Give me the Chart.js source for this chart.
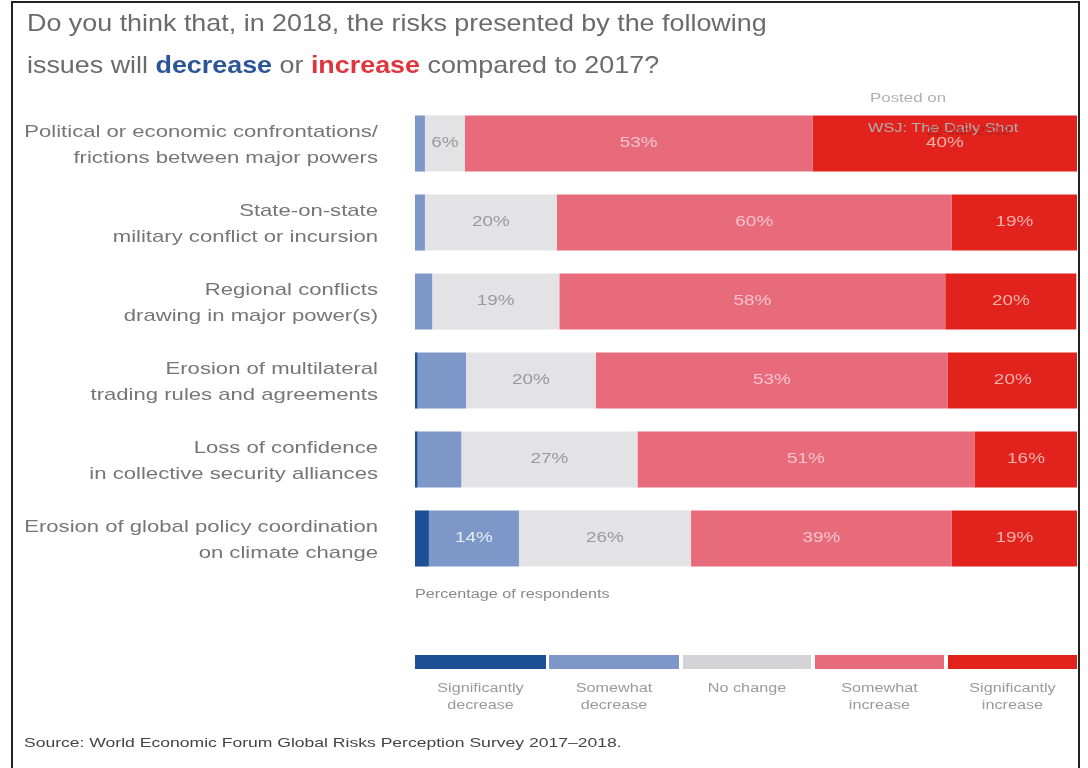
<!DOCTYPE html>
<html>
<head>
<meta charset="utf-8">
<script src="https://cdn.jsdelivr.net/npm/chart.js@4.4.1/dist/chart.umd.min.js"></script>
<style>
  html, body { margin: 0; padding: 0; background: #fff; }
  body { width: 1088px; height: 768px; position: relative; overflow: hidden; font-family: "Liberation Sans", Arial, sans-serif; }
  #frame { position: absolute; left: 11px; top: 1px; width: 1069px; height: 780px; border: 2px solid #222; box-sizing: border-box; }
  #chart { position: absolute; left: 0; top: 0; }
  .txt { position: absolute; white-space: nowrap; transform-origin: 0 50%; }
  #title { left: 27px; top: 2px; font-size: 24px; line-height: 42px; color: #6b6b6b; transform: scaleX(1.12); }
  #title .dec { color: #2b5597; font-weight: bold; }
  #title .inc { color: #e0353d; font-weight: bold; }
  #posted { left: 870px; top: 90px; font-size: 13px; color: #b0b0b0; transform: scaleX(1.3); }
  #wsj { left: 868px; top: 121px; font-size: 12px; color: #b0b0b0; transform: scaleX(1.36); }
  #stamp { left: 926px; top: 124px; font-size: 12px; color: rgba(150,30,25,0.6); transform: scaleX(1.25); }
  #axisNote { left: 415px; top: 587px; font-size: 12px; color: #8a8a8a; transform: scaleX(1.35); }
  #source { left: 24px; top: 735px; font-size: 13px; color: #444; transform: scaleX(1.35); }
  .legBar { position: absolute; top: 655px; height: 14px; }
  .legLbl { position: absolute; top: 680px; font-size: 12px; line-height: 17px; color: #9a9a9a; text-align: center; transform: scaleX(1.35); transform-origin: 50% 50%; }
</style>
</head>
<body>
<div id="frame"></div>
<canvas id="chart" width="1088" height="768"></canvas>
<div class="txt" id="title">Do you think that, in 2018, the risks presented by the following<br>issues will <span class="dec">decrease</span> or <span class="inc">increase</span> compared to 2017?</div>
<div class="txt" id="posted">Posted on</div>
<div class="txt" id="wsj">WSJ: The Daily Shot</div>
<div class="txt" id="stamp">22-Jan-2018</div>
<div class="txt" id="axisNote">Percentage of respondents</div>
<div class="txt" id="source">Source: World Economic Forum Global Risks Perception Survey 2017–2018.</div>
<div id="legend"></div>
<script>
// Survey issues (y axis)
const categories = [
    ['Political or economic confrontations/', 'frictions between major powers'],
    ['State-on-state', 'military conflict or incursion'],
    ['Regional conflicts', 'drawing in major power(s)'],
    ['Erosion of multilateral', 'trading rules and agreements'],
    ['Loss of confidence', 'in collective security alliances'],
    ['Erosion of global policy coordination', 'on climate change']
];

// Share of respondents, in percent
const sigDecrease  = [0,    0,    0,    0.4,  0.4,  2.1];
const someDecrease = [1.5,  1.5,  2.6,  7.3,  6.6,  13.6];
const noChange     = [6.0,  19.9, 19.2, 19.6, 26.6, 26.0];
const someIncrease = [52.6, 59.7, 58.3, 53.2, 50.9, 39.4];
const sigIncrease  = [39.9, 18.9, 19.8, 19.6, 15.6, 18.9];

const seriesNames = [
    ['Significantly', 'decrease'],
    ['Somewhat', 'decrease'],
    ['No change'],
    ['Somewhat', 'increase'],
    ['Significantly', 'increase']
];
const seriesColors = ['#1d4f95', '#7e97c9', '#e3e3e6', '#e86b7b', '#e2231d'];
const labelColors  = ['#dfe6f3', '#e6ecf6', '#9a9a9a', '#f8c3ca', '#f6b0a8'];
const labelMin     = [10, 10, 5, 5, 5];

const seriesData = [sigDecrease, someDecrease, noChange, someIncrease, sigIncrease];

// the source picture is stretched sideways, so text is widened to match
const textStretch = 1.3;

// percent labels in the middle of each segment
const segmentLabels = {
    id: 'segmentLabels',
    beforeDraw(chart) {
        // widen the category labels around their right edge
        const y = chart.scales.y;
        if (y && !y._wide) {
            const orig = y.drawLabels;
            y.drawLabels = function(area) {
                const ctx = this.ctx;
                const edge = this.right - this.options.ticks.padding;
                ctx.save();
                ctx.translate(edge, 2);
                ctx.scale(textStretch, 1);
                ctx.translate(-edge, 0);
                orig.call(this, area);
                ctx.restore();
            };
            y._wide = true;
        }
    },
    afterDatasetsDraw(chart) {
        const ctx = chart.ctx;
        ctx.save();
        ctx.font = '14px "Liberation Sans", Arial, sans-serif';
        ctx.textAlign = 'center';
        ctx.textBaseline = 'middle';
        chart.data.datasets.forEach(function(ds, i) {
            const meta = chart.getDatasetMeta(i);
            meta.data.forEach(function(bar, j) {
                const v = ds.data[j];
                if (v < labelMin[i]) return;
                ctx.save();
                ctx.translate((bar.x + bar.base) / 2, bar.y);
                ctx.scale(1.35, 1);
                ctx.fillStyle = labelColors[i];
                ctx.fillText(Math.round(v) + '%', 0, 0);
                ctx.restore();
            });
        });
        ctx.restore();
    }
};

new Chart(document.getElementById('chart').getContext('2d'), {
    type: 'bar',
    data: {
        labels: categories,
        datasets: seriesData.map(function(d, i) {
            return {
                label: seriesNames[i].join(' '),
                data: d,
                backgroundColor: seriesColors[i],
                borderWidth: 0,
                barPercentage: 0.71,
                categoryPercentage: 1
            };
        })
    },
    options: {
        indexAxis: 'y',
        responsive: false,
        animation: false,
        layout: { padding: { top: 104, bottom: 190, left: 0, right: 11 } },
        scales: {
            x: {
                stacked: true,
                min: 0,
                max: 100,
                display: false
            },
            y: {
                stacked: true,
                grid: { display: false, drawTicks: false },
                border: { display: false },
                ticks: {
                    padding: 37,
                    color: '#767676',
                    font: { family: '"Liberation Sans", Arial, sans-serif', size: 17, lineHeight: 1.53 }
                },
                afterFit: function(scale) { scale.width = 415; }
            }
        },
        plugins: {
            legend: { display: false },
            tooltip: { enabled: false }
        }
    },
    plugins: [segmentLabels]
});

// legend strip under the chart
const legendLefts  = [415, 549, 683, 815, 948];
const legendWidths = [131, 130, 128, 129, 129];
const legend = document.getElementById('legend');
seriesNames.forEach(function(name, i) {
    const bar = document.createElement('div');
    bar.className = 'legBar';
    bar.style.left = legendLefts[i] + 'px';
    bar.style.width = legendWidths[i] + 'px';
    bar.style.background = i === 2 ? '#d4d4d6' : seriesColors[i];
    legend.appendChild(bar);
    const lbl = document.createElement('div');
    lbl.className = 'legLbl';
    lbl.style.left = legendLefts[i] + 'px';
    lbl.style.width = legendWidths[i] + 'px';
    lbl.innerHTML = name.join('<br>');
    legend.appendChild(lbl);
});
</script>
</body>
</html>
